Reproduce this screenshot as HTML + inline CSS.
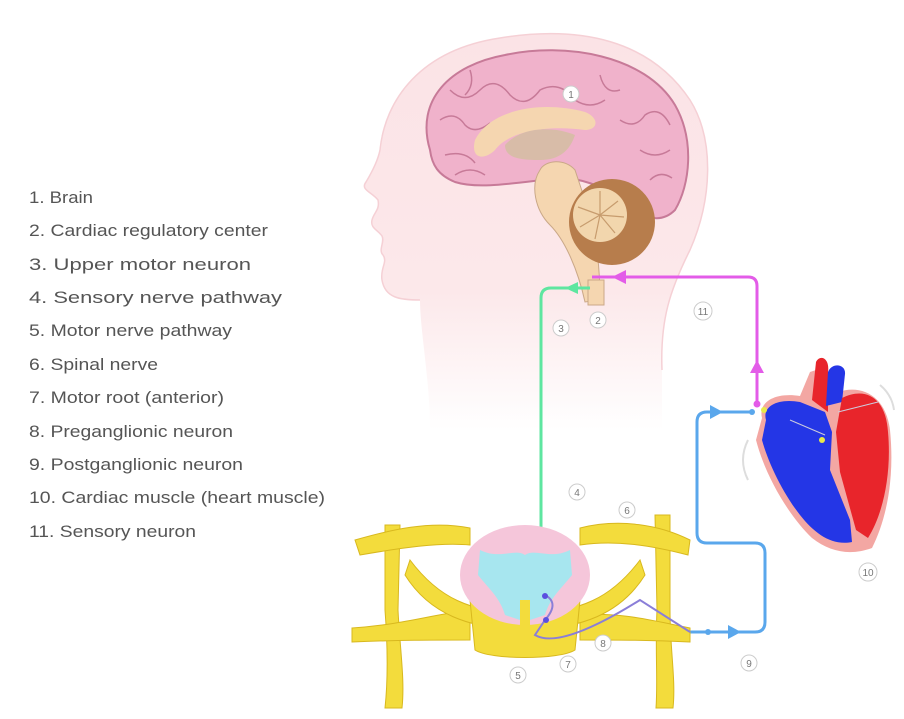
<!DOCTYPE html>
<html><head><meta charset="utf-8"><style>
html,body{margin:0;padding:0;background:#fff;}
svg{display:block}
.lg{font-family:"Liberation Sans",sans-serif;font-size:17px;fill:#555;}
.n{font-family:"Liberation Sans",sans-serif;font-size:10px;fill:#777;text-anchor:middle;}
</style></head><body>
<svg width="904" height="719" viewBox="0 0 904 719" xmlns="http://www.w3.org/2000/svg">
<defs>
<linearGradient id="hg" x1="0" y1="0" x2="0" y2="1">
<stop offset="0" stop-color="#fbe3e6"/><stop offset="0.65" stop-color="#fce8ea"/><stop offset="1" stop-color="#fff"/>
</linearGradient>
</defs>
<rect width="904" height="719" fill="#fff"/>
<g class="lg" lengthAdjust="spacingAndGlyphs">
<text x="29" y="203" textLength="64" lengthAdjust="spacingAndGlyphs">1. Brain</text>
<text x="29" y="236" textLength="239" lengthAdjust="spacingAndGlyphs">2. Cardiac regulatory center</text>
<text x="29" y="270" textLength="222" lengthAdjust="spacingAndGlyphs">3. Upper motor neuron</text>
<text x="29" y="303" textLength="253" lengthAdjust="spacingAndGlyphs">4. Sensory nerve pathway</text>
<text x="29" y="336" textLength="203" lengthAdjust="spacingAndGlyphs">5. Motor nerve pathway</text>
<text x="29" y="370" textLength="129" lengthAdjust="spacingAndGlyphs">6. Spinal nerve</text>
<text x="29" y="403" textLength="195" lengthAdjust="spacingAndGlyphs">7. Motor root (anterior)</text>
<text x="29" y="437" textLength="204" lengthAdjust="spacingAndGlyphs">8. Preganglionic neuron</text>
<text x="29" y="470" textLength="214" lengthAdjust="spacingAndGlyphs">9. Postganglionic neuron</text>
<text x="29" y="503" textLength="296" lengthAdjust="spacingAndGlyphs">10. Cardiac muscle (heart muscle)</text>
<text x="29" y="537" textLength="167" lengthAdjust="spacingAndGlyphs">11. Sensory neuron</text>
</g>
<!-- head -->
<path d="M430,430 C430,380 420,330 420,300 C400,300 385,298 382,280 C380,268 388,262 383,255 C378,250 385,242 382,236 C378,230 370,228 372,220 C374,212 380,210 378,200 C372,192 360,190 366,182 C372,172 378,160 380,150 C385,100 420,50 500,38 C580,25 650,40 690,100 C715,140 712,200 690,250 C670,290 660,320 662,370 L662,430 Z" fill="url(#hg)"/>
<path d="M420,300 C400,300 385,298 382,280 C380,268 388,262 383,255 C378,250 385,242 382,236 C378,230 370,228 372,220 C374,212 380,210 378,200 C372,192 360,190 366,182 C372,172 378,160 380,150 C385,100 420,50 500,38 C580,25 650,40 690,100 C715,140 712,200 690,250 C670,290 660,320 662,370" fill="none" stroke="#f5d0d5" stroke-width="1.5"/>
<!-- brain -->
<path d="M430,150 C415,100 450,65 505,55 C565,42 645,55 675,105 C695,140 690,185 675,210 C660,225 640,218 625,200 C600,185 580,178 560,178 C520,182 480,190 455,182 C438,175 432,165 430,150 Z" fill="#f0b2cb" stroke="#c77a98" stroke-width="2"/>
<g fill="none" stroke="#c77a98" stroke-width="1.5">
<path d="M450,90 q15,15 30,0 q15,-15 30,5 q15,15 30,-5 q20,-10 35,10 q15,10 30,0"/>
<path d="M440,120 q15,-10 25,5 q10,10 25,-2"/>
<path d="M620,120 q15,10 25,-5 q15,-10 25,10"/>
<path d="M640,150 q15,10 30,0"/>
<path d="M445,155 q20,-5 30,8"/>
<path d="M600,75 q5,20 20,15"/>
<path d="M470,70 q5,15 -5,25"/>
<path d="M650,180 q10,-10 22,-2"/>
<path d="M455,175 q15,-10 30,0"/>
</g>
<path d="M475,140 C490,110 540,100 585,112 C600,118 598,130 585,130 C550,125 510,130 495,150 C485,160 470,160 475,140 Z" fill="#f5d6b0"/>
<path d="M505,145 C520,128 550,125 575,135 C570,150 560,160 540,160 C520,160 505,158 505,145 Z" fill="#d8bca8"/>
<path d="M540,170 C545,160 565,158 575,170 L585,200 C595,230 600,260 600,300 L585,302 C578,270 565,240 550,225 C535,210 530,185 540,170 Z" fill="#f5d6b0" stroke="#caa888" stroke-width="1"/>
<circle cx="612" cy="222" r="43" fill="#b77d4c"/>
<circle cx="600" cy="215" r="27" fill="#f2d6ad"/>
<g stroke="#c79c6e" stroke-width="1.2">
<path d="M600,215 l0,-24 M600,215 l18,-14 M600,215 l24,2 M600,215 l15,18 M600,215 l-5,24 M600,215 l-20,12 M600,215 l-22,-8"/>
</g>
<rect x="588" y="280" width="16" height="25" fill="#f5d6b0" stroke="#caa888"/>
<!-- green line -->
<path d="M541,570 L541,298 Q541,288 551,288 L590,288" fill="none" stroke="#5ee6a0" stroke-width="3"/>
<polygon points="565,288 578,282 578,294" fill="#5ee6a0"/>
<circle cx="541" cy="568" r="3.5" fill="#5ee6a0"/>
<!-- magenta -->
<path d="M592,277 L748,277 Q757,277 757,286 L757,402" fill="none" stroke="#e35ce8" stroke-width="3"/>
<polygon points="612,277 626,270 626,284" fill="#e35ce8"/>
<polygon points="757,360 750,373 764,373" fill="#e35ce8"/>
<circle cx="757" cy="404" r="3.5" fill="#e35ce8"/>
<!-- blue -->
<path d="M752,412 L707,412 Q697,412 697,422 L697,533 Q697,543 707,543 L755,543 Q765,543 765,553 L765,622 Q765,632 755,632 L690,632" fill="none" stroke="#5aa7ec" stroke-width="3"/>
<polygon points="723,412 710,405 710,419" fill="#5aa7ec"/>
<polygon points="741,632 728,625 728,639" fill="#5aa7ec"/>
<circle cx="752" cy="412" r="3" fill="#5aa7ec"/>
<circle cx="708" cy="632" r="3" fill="#5aa7ec"/>
<!-- heart -->
<path d="M762,418 C758,402 775,392 800,396 L810,372 L822,368 L826,392 L838,392 C862,384 886,396 890,430 C895,480 886,520 872,548 C850,556 830,552 812,538 C788,515 765,475 756,440 Z" fill="#f3a7a3"/>
<path d="M766,420 C762,406 778,398 800,402 L825,412 L832,432 L830,470 L850,520 L852,542 C832,546 815,534 800,515 C782,492 768,462 762,440 Z" fill="#2436e6"/>
<path d="M812,400 L816,362 C820,354 830,358 828,372 L828,412 Z" fill="#e8252b"/>
<path d="M826,406 L828,372 C832,362 846,364 845,374 L842,402 Z" fill="#2436e6"/>
<path d="M842,398 C866,386 886,398 888,432 C892,476 882,516 868,538 L856,530 L840,472 L836,432 Z" fill="#e8252b"/>
<path d="M790,420 l35,15 M838,412 l40,-10" stroke="#ccd" stroke-width="1"/>
<circle cx="822" cy="440" r="3" fill="#e8e84a"/>
<circle cx="764" cy="410" r="3" fill="#e8e84a"/>
<path d="M748,440 q-10,20 0,40" fill="none" stroke="#ddd" stroke-width="2"/>
<path d="M880,385 q12,10 14,25" fill="none" stroke="#ddd" stroke-width="2"/>
<!-- spinal -->
<g fill="#f3dc3c" stroke="#d8b81e" stroke-width="1">
<path d="M385,525 L400,525 L398,610 C400,650 405,680 402,708 L385,708 C388,680 388,650 385,610 Z"/>
<path d="M655,515 L670,515 L670,610 C670,650 676,680 673,708 L656,708 C658,680 655,650 657,610 Z"/>
<path d="M355,540 C390,530 430,520 470,528 L470,545 C440,542 400,548 360,555 Z"/>
<path d="M580,528 C620,518 660,525 690,540 L688,555 C650,545 615,540 580,545 Z"/>
<path d="M352,628 C400,625 430,615 470,610 L470,640 C430,640 400,640 352,642 Z"/>
<path d="M580,615 C620,612 650,620 690,628 L690,642 C650,640 620,640 580,640 Z"/>
<path d="M410,560 C440,600 470,610 520,615 L520,630 C470,628 430,615 405,575 Z"/>
<path d="M640,560 C610,600 580,610 530,615 L530,630 C580,628 620,615 645,575 Z"/>
<path d="M470,600 L580,600 L575,650 C560,660 490,660 475,650 Z"/>
</g>
<ellipse cx="525" cy="575" rx="65" ry="50" fill="#f5c6da"/>
<path d="M480,550 C500,560 515,548 525,555 C535,548 550,560 570,550 L572,575 C560,590 550,598 545,615 L530,620 L520,620 L505,615 C500,598 490,590 478,575 Z" fill="#a7e6ef"/>
<rect x="520" y="600" width="10" height="40" fill="#f3dc3c"/>
<path d="M545,595 q15,8 0,25 l-10,15 Q560,650 640,600 L690,632" fill="none" stroke="#8a7ed8" stroke-width="2"/>
<circle cx="545" cy="596" r="3" fill="#5b4fe0"/>
<circle cx="546" cy="620" r="3" fill="#5b4fe0"/>
<g fill="#fff" stroke="#ccc" stroke-width="1">
<circle cx="571" cy="94" r="8"/><circle cx="598" cy="320" r="8"/><circle cx="561" cy="328" r="8"/>
<circle cx="577" cy="492" r="8"/><circle cx="518" cy="675" r="8"/><circle cx="627" cy="510" r="8"/>
<circle cx="568" cy="664" r="8"/><circle cx="603" cy="643" r="8"/><circle cx="749" cy="663" r="8"/>
<circle cx="868" cy="572" r="9"/><circle cx="703" cy="311" r="9"/>
</g>
<g class="n">
<text x="571" y="98">1</text><text x="598" y="324">2</text><text x="561" y="332">3</text>
<text x="577" y="496">4</text><text x="518" y="679">5</text><text x="627" y="514">6</text>
<text x="568" y="668">7</text><text x="603" y="647">8</text><text x="749" y="667">9</text>
<text x="868" y="576">10</text><text x="703" y="315">11</text>
</g>
</svg>
</body></html>
